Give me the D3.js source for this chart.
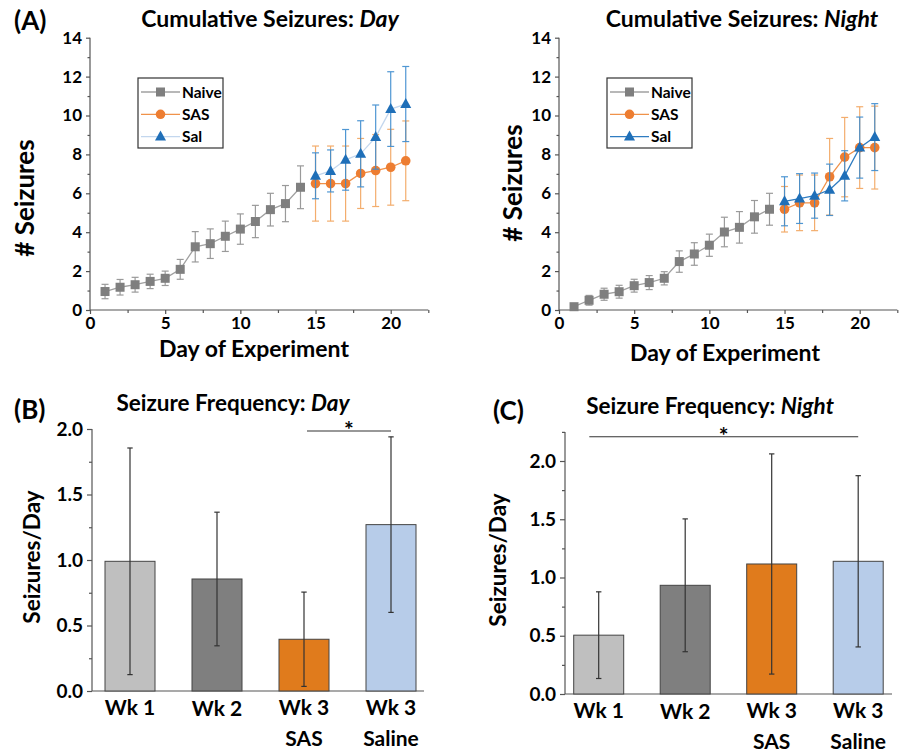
<!DOCTYPE html>
<html>
<head>
<meta charset="utf-8">
<script src="https://cdn.jsdelivr.net/npm/d3@7"></script>
<style>
  body { margin: 0; background: #fff; }
  svg text { font-family: Lato, "Open Sans", sans-serif; font-weight: 700; fill: #000; }
</style>
</head>
<body>
<svg id="fig" width="907" height="752"></svg>
<script>
// ---- data ----
const naiveDays = [1, 2, 3, 4, 5, 6, 7, 8, 9, 10, 11, 12, 13, 14];
const wk3Days   = [15, 16, 17, 18, 19, 20, 21];

const naiveDayMean = [0.95, 1.17, 1.30, 1.47, 1.63, 2.09, 3.25, 3.41, 3.79, 4.16, 4.55, 5.16, 5.47, 6.31];
const naiveDayErr  = [0.37, 0.40, 0.38, 0.37, 0.37, 0.51, 0.78, 0.76, 0.78, 0.78, 0.83, 0.84, 0.93, 1.10];
const sasDayMean   = [6.50, 6.50, 6.50, 7.02, 7.17, 7.34, 7.67];
const sasDayErr    = [1.93, 1.93, 1.93, 1.80, 1.85, 1.95, 2.05];
const salDayMean   = [6.90, 7.15, 7.72, 8.03, 8.89, 10.33, 10.59];
const salDayErr    = [1.18, 1.08, 1.56, 1.70, 1.65, 1.92, 1.93];

const naiveNightMean = [0.17, 0.50, 0.81, 0.94, 1.25, 1.41, 1.63, 2.49, 2.88, 3.33, 4.01, 4.25, 4.79, 5.18];
const naiveNightErr  = [0.05, 0.25, 0.31, 0.33, 0.33, 0.36, 0.34, 0.55, 0.58, 0.57, 0.76, 0.81, 0.84, 0.82];
const sasNightMean   = [5.18, 5.51, 5.51, 6.85, 7.86, 8.35, 8.35];
const sasNightErr    = [1.17, 1.43, 1.43, 1.97, 2.04, 2.10, 2.13];
const salNightMean   = [5.59, 5.73, 5.88, 6.18, 6.90, 8.35, 8.89];
const salNightErr    = [1.26, 1.28, 1.16, 1.32, 1.29, 1.57, 1.72];

const weekGroups    = ["Wk 1", "Wk 2", "Wk 3 SAS", "Wk 3 Saline"];
const weekLines     = [["Wk 1"], ["Wk 2"], ["Wk 3", "SAS"], ["Wk 3", "Saline"]];
const freqDayMean   = [0.99, 0.855, 0.395, 1.27];
const freqDayErr    = [0.865, 0.51, 0.36, 0.67];
const freqNightMean = [0.505, 0.933, 1.116, 1.139];
const freqNightErr  = [0.372, 0.57, 0.945, 0.735];

const cumTicks  = [0, 2, 4, 6, 8, 10, 12, 14];
const dayTicks  = [0, 5, 10, 15, 20];
const freqTicks = [0, 0.5, 1.0, 1.5, 2.0];

const GREY = "#7f7f7f", ORANGE = "#ed7d31", BLUE = "#1f6fb8";
const barColors = ["#bfbfbf", "#7f7f7f", "#e07b1c", "#b7cce9"];
const AXIS = "#555";

const svg = d3.select("#fig");

// ---- helpers ----
function errorBars(g, xs, ys, errs, x, y, color, cap, opacity) {
  xs.forEach((d, i) => {
    const cx = x(d), top = y(ys[i] + errs[i]), bot = y(ys[i] - errs[i]);
    const e = g.append("g").attr("stroke", color).attr("stroke-width", 1.2).attr("opacity", opacity);
    e.append("line").attr("x1", cx).attr("x2", cx).attr("y1", top).attr("y2", bot);
    e.append("line").attr("x1", cx - cap).attr("x2", cx + cap).attr("y1", top).attr("y2", top);
    e.append("line").attr("x1", cx - cap).attr("x2", cx + cap).attr("y1", bot).attr("y2", bot);
  });
}

function marker(g, type, cx, cy, color) {
  if (type === "square") {
    g.append("rect").attr("x", cx - 4.5).attr("y", cy - 4.5).attr("width", 9).attr("height", 9).attr("fill", color);
  } else if (type === "circle") {
    g.append("circle").attr("cx", cx).attr("cy", cy).attr("r", 4.8).attr("fill", color);
  } else {
    g.append("path").attr("d", `M${cx},${cy - 6}L${cx + 5.5},${cy + 4}L${cx - 5.5},${cy + 4}Z`).attr("fill", color);
  }
}

function titleText(x, y, plain, ital, size) {
  const t = svg.append("text").attr("x", x).attr("y", y).attr("text-anchor", "middle").attr("font-size", size);
  t.append("tspan").text(plain);
  t.append("tspan").attr("font-style", "italic").text(ital);
}

function styleTicks(sel, size) {
  sel.selectAll("text").attr("font-size", size).attr("font-family", "Lato").attr("font-weight", 700).attr("fill", "#000");
}

function cumPanel(opt) {
  const x = d3.scaleLinear().domain([0, 22.5]).range([opt.x0, opt.x0 + 338.3]);
  const y = d3.scaleLinear().domain([0, 14]).range([310, 37.7]);
  const g = svg.append("g");

  // axes: labelled major ticks plus short minor ticks
  const yAx = g.append("g").attr("transform", `translate(${opt.x0},0)`)
    .call(d3.axisLeft(y).tickValues(cumTicks).tickSize(4).tickPadding(4).tickFormat(d3.format("d")));
  g.append("g").attr("transform", `translate(${opt.x0},0)`)
    .call(d3.axisLeft(y).tickValues(d3.range(1, 14, 2)).tickSize(2.5).tickFormat(""));
  const xAx = g.append("g").attr("transform", "translate(0,310)")
    .call(d3.axisBottom(x).tickValues(dayTicks).tickSize(4).tickPadding(3));
  g.append("g").attr("transform", "translate(0,310)")
    .call(d3.axisBottom(x).tickValues([2.5, 7.5, 12.5, 17.5, 22.5]).tickSize(3).tickFormat(""));
  g.selectAll(".tick line").attr("stroke", AXIS).attr("stroke-width", 1.2);
  g.selectAll(".domain").attr("d", null);
  styleTicks(yAx, 17);
  styleTicks(xAx, 17);
  g.append("line").attr("x1", opt.x0).attr("x2", opt.x0).attr("y1", 37.7).attr("y2", 310).attr("stroke", AXIS).attr("stroke-width", 1.2);
  g.append("line").attr("x1", opt.x0).attr("x2", opt.x0 + 338.3).attr("y1", 310).attr("y2", 310).attr("stroke", AXIS).attr("stroke-width", 1.2);

  const line = d3.line().x(d => x(d[0])).y(d => y(d[1]));

  // Naive
  errorBars(g, naiveDays, opt.naive, opt.naiveErr, x, y, "#9a9a9a", 3.5, 1);
  g.append("path").datum(naiveDays.map((d, i) => [d, opt.naive[i]])).attr("d", line)
    .attr("fill", "none").attr("stroke", "#a0a0a0").attr("stroke-width", 1.3);
  naiveDays.forEach((d, i) => marker(g, "square", x(d), y(opt.naive[i]), GREY));

  // SAS
  errorBars(g, wk3Days, opt.sas, opt.sasErr, x, y, "#f2a55e", 3.5, 0.9);
  g.append("path").datum(wk3Days.map((d, i) => [d, opt.sas[i]])).attr("d", line)
    .attr("fill", "none").attr("stroke", "#f0924a").attr("stroke-width", 1.3);
  wk3Days.forEach((d, i) => marker(g, "circle", x(d), y(opt.sas[i]), ORANGE));

  // Sal
  errorBars(g, wk3Days, opt.sal, opt.salErr, x, y, "#3d8ccf", 3.5, 0.9);
  g.append("path").datum(wk3Days.map((d, i) => [d, opt.sal[i]])).attr("d", line)
    .attr("fill", "none").attr("stroke", opt.salLine).attr("stroke-width", 1.3);
  wk3Days.forEach((d, i) => marker(g, "triangle", x(d), y(opt.sal[i]), BLUE));

  // legend
  const lg = g.append("g").attr("transform", `translate(${opt.legX},78)`);
  lg.append("rect").attr("width", 85).attr("height", 70).attr("fill", "#fff").attr("stroke", "#333").attr("stroke-width", 1.2);
  const items = [["Naive", "#a0a0a0", GREY, "square"], ["SAS", "#f0924a", ORANGE, "circle"], ["Sal", opt.salLine, BLUE, "triangle"]];
  items.forEach((it, i) => {
    const yy = 14 + i * 22.3;
    lg.append("line").attr("x1", 3).attr("x2", 42).attr("y1", yy).attr("y2", yy).attr("stroke", it[1]).attr("stroke-width", 1.3);
    marker(lg, it[3], 22.5, yy, it[2]);
    lg.append("text").attr("x", 44).attr("y", yy + 5.5).attr("font-size", 15.5).text(it[0]);
  });

  // labels
  titleText(opt.titleX, 27, "Cumulative Seizures: ", opt.ital, 23);
  svg.append("text").attr("transform", `translate(${opt.ylabX},${opt.ylabY}) rotate(-90)`)
    .attr("text-anchor", "middle").attr("font-size", 26).text("# Seizures");
  svg.append("text").attr("x", opt.xlabX).attr("y", opt.xlabY).attr("text-anchor", "middle")
    .attr("font-size", 23).text("Day of Experiment");
}

function barPanel(opt) {
  const step = opt.step;
  const x = d3.scaleBand().domain(weekGroups)
    .range([opt.c0 - step / 2, opt.c0 - step / 2 + 4 * step])
    .paddingInner(1 - 50 / step).paddingOuter((1 - 50 / step) / 2);
  const y = d3.scaleLinear().domain([0, opt.ymax]).range([opt.y0, opt.y0 - opt.ymax * opt.ppu]);
  const g = svg.append("g");

  const yAx = g.append("g").attr("transform", `translate(${opt.ax0},0)`)
    .call(d3.axisLeft(y).tickValues(freqTicks).tickSize(5).tickPadding(4).tickFormat(d3.format(".1f")));
  g.append("g").attr("transform", `translate(${opt.ax0},0)`)
    .call(d3.axisLeft(y).tickValues(opt.minor).tickSize(3).tickFormat(""));
  g.selectAll(".domain").attr("d", null);
  g.selectAll(".tick line").attr("stroke", AXIS).attr("stroke-width", 1.2);
  styleTicks(yAx, 19);
  g.append("line").attr("x1", opt.ax0).attr("x2", opt.ax0).attr("y1", y(opt.ymax)).attr("y2", opt.y0).attr("stroke", AXIS).attr("stroke-width", 1.2);
  g.append("line").attr("x1", opt.ax0).attr("x2", opt.ax1).attr("y1", opt.y0).attr("y2", opt.y0).attr("stroke", AXIS).attr("stroke-width", 1.2);

  g.selectAll(".bar").data(weekGroups).join("rect")
    .attr("x", d => x(d)).attr("width", x.bandwidth())
    .attr("y", (d, i) => y(opt.mean[i])).attr("height", (d, i) => opt.y0 - y(opt.mean[i]))
    .attr("fill", (d, i) => barColors[i]).attr("stroke", "#444").attr("stroke-width", 1);

  const centers = weekGroups.map(d => x(d) + x.bandwidth() / 2);
  errorBars(g, centers, opt.mean, opt.err, d3.scaleIdentity(), y, "#333", 2.7, 1);

  weekLines.forEach((lines, i) => {
    lines.forEach((s, j) => {
      g.append("text").attr("x", centers[i]).attr("y", opt.y0 + 24 + j * 31 + (i === 1 ? 1 : 0))
        .attr("text-anchor", "middle").attr("font-size", 21).text(s);
    });
  });

  // significance bar
  const sx2 = centers[opt.sig[1]];
  g.append("line").attr("x1", opt.sigX1).attr("x2", sx2).attr("y1", opt.sigY).attr("y2", opt.sigY)
    .attr("stroke", "#333").attr("stroke-width", 1.1);
  g.append("text").attr("x", (opt.sigX1 + sx2) / 2).attr("y", opt.sigY + 7).attr("text-anchor", "middle")
    .attr("font-size", 23).text("*");

  titleText(opt.titleX, opt.titleY, "Seizure Frequency: ", opt.ital, 22.5);
  svg.append("text").attr("transform", `translate(${opt.ylabX},${opt.ylabY}) rotate(-90)`)
    .attr("text-anchor", "middle").attr("font-size", 22.5).text("Seizures/Day");
}

// ---- panel A ----
cumPanel({ x0: 90, naive: naiveDayMean, naiveErr: naiveDayErr, sas: sasDayMean, sasErr: sasDayErr,
  sal: salDayMean, salErr: salDayErr, salLine: "#c3d7ee", legX: 138, ital: "Day",
  titleX: 270, ylabX: 34, ylabY: 198, xlabX: 254, xlabY: 357 });
cumPanel({ x0: 559, naive: naiveNightMean, naiveErr: naiveNightErr, sas: sasNightMean, sasErr: sasNightErr,
  sal: salNightMean, salErr: salNightErr, salLine: "#2f7cc1", legX: 607, ital: "Night",
  titleX: 742, ylabX: 522, ylabY: 183, xlabX: 725, xlabY: 361 });

// ---- panels B and C ----
barPanel({ c0: 130, step: 87, y0: 691, ymax: 2.0, ppu: 131, ax0: 92, ax1: 424,
  minor: [0.25, 0.75, 1.25, 1.75], mean: freqDayMean, err: freqDayErr, sig: [2, 3],
  sigX1: 307, sigY: 431, ital: "Day", titleX: 233, titleY: 411, ylabX: 40, ylabY: 557 });
barPanel({ c0: 598.7, step: 86.5, y0: 694, ymax: 2.25, ppu: 116.5, ax0: 565, ax1: 892,
  minor: [0.25, 0.75, 1.25, 1.75, 2.25], mean: freqNightMean, err: freqNightErr, sig: [0, 3],
  sigX1: 589.3, sigY: 436.7, ital: "Night", titleX: 710, titleY: 414, ylabX: 506, ylabY: 560 });

// panel letters
[["(A)", 14, 30], ["(B)", 14, 419], ["(C)", 493, 420]].forEach(([s, xx, yy]) => {
  svg.append("text").attr("x", xx).attr("y", yy).attr("font-size", 26).text(s);
});
</script>
</body>
</html>
